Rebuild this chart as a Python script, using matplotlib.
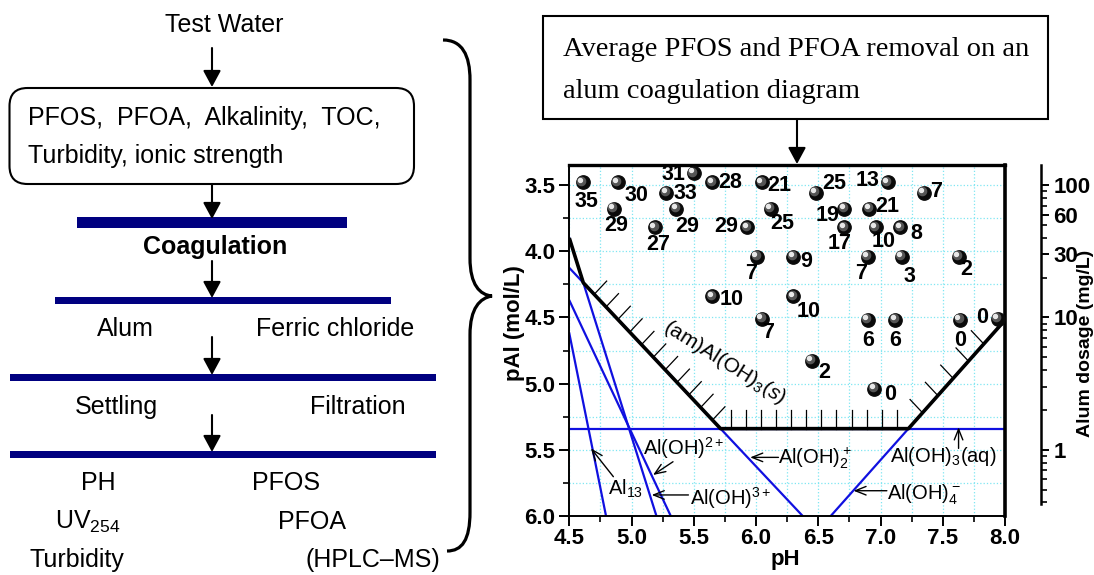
import numpy as np
import matplotlib.pyplot as plt
import matplotlib.transforms as mtransforms
from matplotlib.patches import FancyBboxPatch, Rectangle, PathPatch
from matplotlib.path import Path
from matplotlib.ticker import MultipleLocator, LogLocator, NullFormatter

plt.rcParams['font.family'] = ['Liberation Sans', 'DejaVu Sans']
plt.rcParams['mathtext.fontset'] = 'custom'
plt.rcParams['mathtext.rm'] = 'Liberation Sans'
plt.rcParams['mathtext.it'] = 'Liberation Sans:italic'
plt.rcParams['mathtext.bf'] = 'Liberation Sans:bold'

# ---- data: jar test points (pH, pAl) and average removal (%)
ph = [4.61, 4.89, 4.86, 5.50, 5.28, 5.36, 5.19, 5.65, 5.93, 6.05, 6.12,
      6.01, 6.30, 5.65, 6.30, 6.05, 6.48, 7.06, 7.35, 6.71, 6.91, 6.71,
      6.96, 7.16, 6.90, 7.17, 7.63, 6.90, 7.12, 7.64, 7.94, 6.45, 6.95]
pal = [3.48, 3.48, 3.68, 3.41, 3.56, 3.68, 3.82, 3.48, 3.82, 3.48, 3.68,
       4.04, 4.04, 4.34, 4.34, 4.51, 3.56, 3.48, 3.56, 3.68, 3.68, 3.82,
       3.82, 3.82, 4.04, 4.04, 4.04, 4.52, 4.52, 4.52, 4.51, 4.83, 5.04]
removal = ['35', '30', '29', '31', '33', '29', '27', '28', '29', '21', '25',
           '7', '9', '10', '10', '7', '25', '13', '7', '19', '21', '17',
           '10', '8', '7', '3', '2', '6', '6', '0', '0', '2', '0']
# label offsets from each ball (pixels, +dy = downwards)
lab_dx = [3, 19, 2, -20, 19, 11, 3, 18, -21, 17, 11, -6, 13, 19, 15, 6,
          18, -20, 12, -17, 18, -5, 8, 16, -7, 8, 7, 0, 0, 0, -15, 12, 16]
lab_dy = [19, 13, 17, 1, 0, 18, 17, 0, -1, 3, 15, 17, 5, 3, 15, 14,
          -10, -2, -2, 7, -2, 16, 14, 6, 17, 20, 13, 20, 20, 20, -1, 11, 6]

# ---- alum speciation boundaries (pH, pAl)
al13_ph, al13_pal = [4.50, 4.795], [4.62, 6.0]
aloh2p_ph, aloh2p_pal = [4.50, 5.315], [4.37, 6.0]      # Al(OH)2+
aloh3p_ph, aloh3p_pal = [4.50, 5.20], [3.90, 6.0]       # Al(OH)3+
aloh2_ph, aloh2_pal = [4.50, 6.375], [4.125, 6.0]       # Al(OH)2 +
aloh4_ph, aloh4_pal = [6.60, 8.0], [6.0, 4.52]          # Al(OH)4-
aq_pal = 5.34                                           # Al(OH)3(aq)
sol_ph = [4.50, 4.6125, 5.715, 7.224, 8.0]              # (am)Al(OH)3(s) boundary
sol_pal = [3.90, 4.2375, 5.34, 5.34, 4.52]

dose_ticks = [1, 10, 30, 60, 100]

W, H = 1094, 575
fig = plt.figure(figsize=(W / 100, H / 100), dpi=100)

# ---------------- coagulation diagram
ax = fig.add_axes([569.3 / W, (H - 516) / H, 435.7 / W, 351.5 / H])
ax.set_xlim(4.5, 8.0)
ax.set_ylim(6.0, 3.344)
ax.set_axisbelow(True)
ax.xaxis.set_major_locator(MultipleLocator(0.5))
ax.xaxis.set_minor_locator(MultipleLocator(0.25))
ax.yaxis.set_major_locator(MultipleLocator(0.5))
ax.yaxis.set_minor_locator(MultipleLocator(0.25))
ax.xaxis.set_major_formatter('{x:.1f}')
ax.yaxis.set_major_formatter('{x:.1f}')
ax.grid(True, which='both', color='#7fe6f2', linestyle=':', linewidth=0.9)
ax.tick_params(which='major', direction='out', length=7, width=1.4, labelsize=16, pad=2)
ax.tick_params(which='minor', direction='out', length=4, width=1.2)
ax.tick_params(axis='y', pad=3)
for lab in ax.get_xticklabels() + ax.get_yticklabels():
    lab.set_fontweight('bold')
ax.spines['left'].set_linewidth(1.4)
ax.spines['bottom'].set_linewidth(1.4)
ax.spines['top'].set_linewidth(2.4)
ax.spines['right'].set_linewidth(2.6)

blue = '#1010e0'
ax.plot(al13_ph, al13_pal, color=blue, lw=1.6)
ax.plot(aloh2p_ph, aloh2p_pal, color=blue, lw=1.6)
ax.plot(aloh3p_ph, aloh3p_pal, color=blue, lw=1.6)
ax.plot(aloh2_ph, aloh2_pal, color=blue, lw=1.6)
ax.plot(aloh4_ph, aloh4_pal, color=blue, lw=1.6)
ax.axhline(aq_pal, color=blue, lw=1.6)
ax.plot(sol_ph, sol_pal, color='black', lw=2.6, solid_capstyle='butt')

# hatching on the solid side of the boundary
for x0 in np.linspace(4.70, 5.65, 11):
    y0 = np.interp(x0, sol_ph[1:3], sol_pal[1:3])
    ax.plot([x0, x0 + 0.1], [y0, y0 - 0.1], color='black', lw=0.9)
for x0 in np.linspace(5.80, 7.13, 12):
    ax.plot([x0, x0], [aq_pal, aq_pal - 0.14], color='black', lw=0.9)
for y0 in np.linspace(5.22, 4.70, 5):
    x0 = np.interp(y0, sol_pal[:2:-1], sol_ph[:2:-1])
    ax.plot([x0, x0 - 0.1], [y0, y0 - 0.1], color='black', lw=0.9)

# shaded balls
off1 = mtransforms.ScaledTranslation(-1.2 / 72, 1.2 / 72, fig.dpi_scale_trans)
off2 = mtransforms.ScaledTranslation(-2.0 / 72, 2.0 / 72, fig.dpi_scale_trans)
ax.scatter(ph, pal, s=92, color='#0a0a0a', zorder=5)
ax.scatter(ph, pal, s=35, color='#555555', zorder=6, transform=ax.transData + off1)
ax.scatter(ph, pal, s=8, color='#e8e8e8', zorder=7, transform=ax.transData + off2)
for x, y, t, dx, dy in zip(ph, pal, removal, lab_dx, lab_dy):
    ax.annotate(t, (x, y), xytext=(dx, -dy), textcoords='offset pixels',
                ha='center', va='center', fontsize=15.5, fontweight='bold', zorder=8)

# species labels
fs = 14.5
ax.text(5.75, 4.84, '(am)Al(OH)$_3$($\\mathit{s}$)', fontsize=15, rotation=-32,
        rotation_mode='anchor', ha='center', va='center')
species = [
    ('Al(OH)$^{2+}$', (5.095, 5.539), (5.333, 5.590), (5.173, 5.690)),
    ('Al(OH)$^{3+}$', (5.470, 5.917), (5.457, 5.841), (5.162, 5.841)),
    ('Al$_{13}$', (4.814, 5.841), (4.854, 5.703), (4.674, 5.489)),
    ('Al(OH)$_2^+$', (6.180, 5.607), (6.180, 5.557), (5.953, 5.557)),
    ('Al(OH)$_3$(aq)', (7.078, 5.590), (7.627, 5.489), (7.627, 5.330)),
    ('Al(OH)$_4^-$', (7.051, 5.879), (7.051, 5.809), (6.783, 5.809)),
]
for txt, pos, tail, head in species:
    ax.text(pos[0], pos[1], txt, fontsize=fs, ha='left', va='baseline', zorder=9)
    ax.annotate('', xy=head, xytext=tail,
                arrowprops=dict(arrowstyle='->,head_length=0.55,head_width=0.22',
                                color='black', lw=1.0, shrinkA=0, shrinkB=0,
                                mutation_scale=14))

ax.set_xlabel('pH', fontsize=16, fontweight='bold', va='center')
ax.xaxis.set_label_coords(0.495, -0.125)
ax.set_ylabel('pAl (mol/L)', fontsize=16, fontweight='bold', va='center')
ax.yaxis.set_label_coords(-0.126, 0.55)

# alum dosage axis
ax2 = ax.twinx()
ax2.set_yscale('log')
ax2.set_ylim(10 ** (5.5 - 6.0), 10 ** (5.5 - 3.344))
for s in ['left', 'top', 'bottom']:
    ax2.spines[s].set_visible(False)
ax2.spines['right'].set_position(('outward', 26))
ax2.spines['right'].set_linewidth(1.8)
ax2.spines['right'].set_bounds(0.39, 10 ** (5.5 - 3.344))
ax2.set_yticks(dose_ticks)
ax2.set_yticklabels([str(d) for d in dose_ticks])
ax2.yaxis.set_minor_locator(LogLocator(base=10, subs=np.arange(2, 10)))
ax2.yaxis.set_minor_formatter(NullFormatter())
ax2.tick_params(which='major', direction='out', length=6, width=1.4, labelsize=16, pad=3)
ax2.tick_params(which='minor', direction='out', length=4, width=1.2)
for lab in ax2.get_yticklabels():
    lab.set_fontweight('bold')
ax2.text(1.185, 0.49, 'Alum dosage (mg/L)', transform=ax2.transAxes, fontsize=14,
         fontweight='bold', rotation=90, ha='center', va='center')

# ---------------- flowchart and annotations (pixel overlay)
ov = fig.add_axes([0, 0, 1, 1], zorder=5)
ov.set_xlim(0, W)
ov.set_ylim(H, 0)
ov.axis('off')

navy = '#000080'
arrow_kw = dict(arrowstyle='-|>,head_length=0.5,head_width=0.27', color='black',
                lw=1.5, mutation_scale=20, shrinkA=0, shrinkB=0)
cx = 212
for y0, y1 in [(48, 87), (184, 219), (261, 298), (337, 375), (415, 452)]:
    ov.annotate('', xy=(cx, y1), xytext=(cx, y0), arrowprops=arrow_kw)

ov.text(224.5, 25, 'Test Water', fontsize=18, ha='center', va='center')
ov.add_patch(FancyBboxPatch((9.5, 88), 404.5, 96, boxstyle='round,pad=0,rounding_size=18',
                            fc='none', ec='black', lw=1.5))
ov.text(28.5, 118, 'PFOS,  PFOA,  Alkalinity,  TOC,', fontsize=18, ha='left', va='center')
ov.text(28.5, 156, 'Turbidity, ionic strength', fontsize=18, ha='left', va='center')

for x0, x1, y0, h in [(77, 346.7, 217.3, 11), (55, 391, 297.3, 6.5),
                      (10, 436, 374, 6.5), (10, 436, 451.3, 6.5)]:
    ov.add_patch(Rectangle((x0, y0), x1 - x0, h, fc=navy, ec='none'))

ov.text(215, 247, 'Coagulation', fontsize=18, fontweight='bold', ha='center', va='center')
ov.text(125, 329, 'Alum', fontsize=18, ha='center', va='center')
ov.text(335, 329, 'Ferric chloride', fontsize=18, ha='center', va='center')
ov.text(116, 407, 'Settling', fontsize=18, ha='center', va='center')
ov.text(358, 407, 'Filtration', fontsize=18, ha='center', va='center')
ov.text(98, 483, 'PH', fontsize=18, ha='center', va='center')
ov.text(286, 483, 'PFOS', fontsize=18, ha='center', va='center')
ov.text(55, 522, 'UV$_{254}$', fontsize=18, ha='left', va='center')
ov.text(312, 522, 'PFOA', fontsize=18, ha='center', va='center')
ov.text(77, 560, 'Turbidity', fontsize=18, ha='center', va='center')
ov.text(373, 560, '(HPLC\u2013MS)', fontsize=18, ha='center', va='center')

# curly brace
verts = [(443, 40), (462, 40), (470, 55), (470, 80),
         (470, 258),
         (470, 285), (480, 295), (492, 296),
         (480, 298), (470, 308), (470, 335),
         (470, 512),
         (470, 540), (462, 551), (447, 551)]
codes = [Path.MOVETO, Path.CURVE4, Path.CURVE4, Path.CURVE4,
         Path.LINETO,
         Path.CURVE4, Path.CURVE4, Path.CURVE4,
         Path.CURVE4, Path.CURVE4, Path.CURVE4,
         Path.LINETO,
         Path.CURVE4, Path.CURVE4, Path.CURVE4]
ov.add_patch(PathPatch(Path(verts, codes), fc='none', ec='black', lw=2.3))

# title box
ov.add_patch(Rectangle((543, 16), 505, 103, fc='white', ec='black', lw=1.5))
ov.text(563, 50, 'Average PFOS and PFOA removal on an', fontsize=20.5,
        family='Liberation Serif', ha='left', va='center')
ov.text(563, 92, 'alum coagulation diagram', fontsize=20.5,
        family='Liberation Serif', ha='left', va='center')
ov.annotate('', xy=(797, 164), xytext=(797, 119), arrowprops=arrow_kw)

fig.savefig('out.png', dpi=100)
